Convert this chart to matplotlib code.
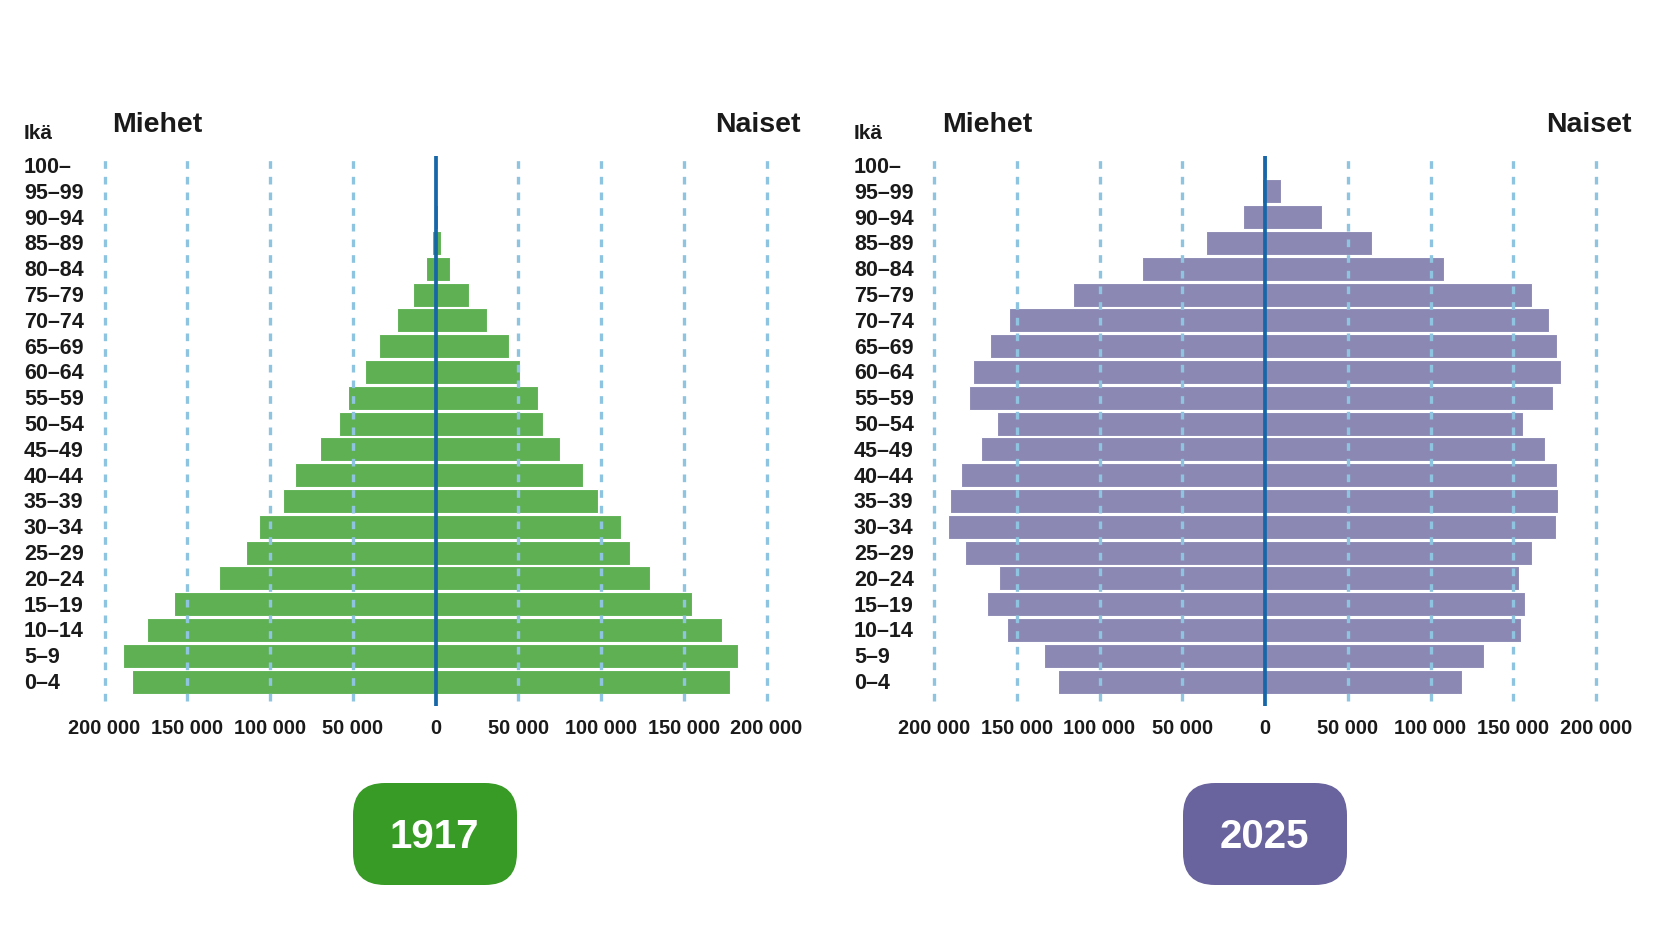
import matplotlib
matplotlib.use("Agg")
import matplotlib.pyplot as plt
from matplotlib.patches import FancyBboxPatch
import matplotlib.transforms as mtrans

plt.rcParams['font.family'] = ['Liberation Sans', 'DejaVu Sans']
plt.rcParams['font.weight'] = 'bold'

# ---------------- data ----------------
age_groups = ["0–4", "5–9", "10–14", "15–19", "20–24", "25–29", "30–34", "35–39",
              "40–44", "45–49", "50–54", "55–59", "60–64", "65–69", "70–74",
              "75–79", "80–84", "85–89", "90–94", "95–99", "100–"]

men_1917 = [183500, 188700, 174400, 157900, 131100, 114600, 106800, 91900, 84800,
            69900, 58300, 53100, 42700, 34300, 23300, 13300, 5500, 2300, 500, 100, 0]
women_1917 = [177700, 182800, 173100, 154700, 129400, 117500, 112000, 98100, 89300,
              75100, 65000, 61800, 50800, 44300, 31400, 20000, 9000, 3600, 1500, 300, 0]

men_2025 = [125300, 133700, 155700, 167700, 160600, 181000, 191400, 190400, 183900,
            171600, 161900, 178800, 176500, 166100, 154800, 116300, 74200, 35600,
            13300, 1600, 200]
women_2025 = [119200, 132100, 154500, 157100, 153500, 161300, 175800, 176800, 176200,
              169000, 156100, 174200, 179100, 176500, 171300, 161300, 108200, 64800,
              34300, 9400, 1000]

xticks = [-200000, -150000, -100000, -50000, 0, 50000, 100000, 150000, 200000]
xtick_labels = ["200 000", "150 000", "100 000", "50 000", "0",
                "50 000", "100 000", "150 000", "200 000"]

header_left = "Miehet"
header_right = "Naiset"
age_title = "Ikä"
years = ["1917", "2025"]

# ---------------- style ----------------
W, H = 1680, 942
DPI = 100
bar_colors = ["#5eb052", "#8b89b3"]
box_colors = ["#389b26", "#6a649e"]
grid_color = "#8fc4e0"
zero_color = "#1766a8"
text_color = "#1a1a1a"

fig = plt.figure(figsize=(W / DPI, H / DPI), dpi=DPI)
fig.patch.set_facecolor("white")

# layout in pixels
zero_px = [435.5, 1265.0]
span_px = 331.0          # pixels per 200 000
ax_left_px = [70, 900]
ax_right_px = [800, 1632]
ax_top_px = 155.7
ax_bot_px = 706.0
row0_px = 681.6
row_step = 25.8
label_x_px = [24, 854]
miehet_x_px = [112, 942]
naiset_x_px = [801, 1632]

datasets = [(men_1917, women_1917), (men_2025, women_2025)]

for k in range(2):
    men, women = datasets[k]
    l, r = ax_left_px[k], ax_right_px[k]
    ax = fig.add_axes([l / W, 1 - ax_bot_px / H, (r - l) / W, (ax_bot_px - ax_top_px) / H])
    xmin = (l - zero_px[k]) / span_px * 200000
    xmax = (r - zero_px[k]) / span_px * 200000
    ax.set_xlim(xmin, xmax)
    ymin = (row0_px - ax_bot_px) / row_step
    ymax = (row0_px - ax_top_px) / row_step
    ax.set_ylim(ymin, ymax)

    ypos = list(range(len(age_groups)))
    ax.barh(ypos, [-m for m in men], height=0.93, color=bar_colors[k],
            edgecolor="white", linewidth=0.8, zorder=2)
    ax.barh(ypos, women, height=0.93, color=bar_colors[k],
            edgecolor="white", linewidth=0.8, zorder=2)

    # dashed grid lines
    g_lo = (ax_bot_px - 701) / (ax_bot_px - ax_top_px)
    g_hi = (ax_bot_px - 157.5) / (ax_bot_px - ax_top_px)
    for t in xticks:
        if t == 0:
            continue
        ax.axvline(t, ymin=g_lo, ymax=g_hi, color=grid_color, lw=2.4,
                   dashes=(2.3, 2.4), zorder=3)
    ax.axvline(0, color=zero_color, lw=2.7, zorder=4)

    ax.set_xticks(xticks)
    ax.set_xticklabels(xtick_labels, fontsize=14.4, fontweight="bold", color=text_color)
    ax.tick_params(axis="x", length=0, pad=9)
    ax.set_yticks([])
    for s in ax.spines.values():
        s.set_visible(False)
    ax.patch.set_alpha(0)

    # age labels, left aligned
    tr = mtrans.blended_transform_factory(fig.transFigure, ax.transData)
    for i, lab in enumerate(age_groups):
        ax.text(label_x_px[k] / W, i - 0.07, lab, transform=tr, ha="left", va="center",
                fontsize=15.5, fontweight="bold", color=text_color, clip_on=False)

    fig.text(label_x_px[k] / W, 1 - 139 / H, age_title, ha="left", va="baseline",
             fontsize=15, fontweight="bold", color=text_color)
    fig.text(miehet_x_px[k] / W, 1 - 131.5 / H, header_left, ha="left", va="baseline",
             fontsize=20.5, fontweight="bold", color=text_color)
    fig.text(naiset_x_px[k] / W, 1 - 131.5 / H, header_right, ha="right", va="baseline",
             fontsize=20.5, fontweight="bold", color=text_color)

# year boxes
ov = fig.add_axes([0, 0, 1, 1])
ov.set_xlim(0, W)
ov.set_ylim(H, 0)
ov.axis("off")
ov.patch.set_alpha(0)
box_x = [353, 1183]
box_w = 164
box_y = 783
box_h = 102
for k in range(2):
    p = FancyBboxPatch((box_x[k], box_y), box_w, box_h,
                       boxstyle="round,pad=0,rounding_size=32",
                       facecolor=box_colors[k], edgecolor="none")
    ov.add_patch(p)
    ov.text(box_x[k] + box_w / 2 - 1, box_y + box_h / 2 + 3, years[k], ha="center",
            va="center", fontsize=29, fontweight="bold", color="white")

fig.savefig("out.png", dpi=DPI, facecolor="white")
